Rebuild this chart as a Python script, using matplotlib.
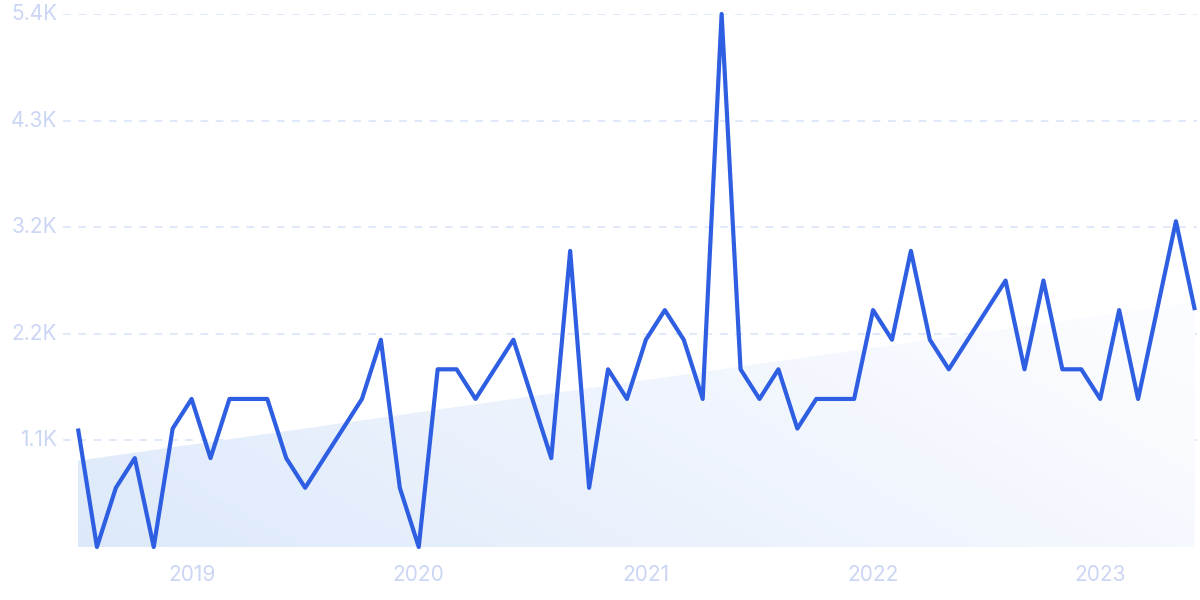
import numpy as np
import matplotlib
matplotlib.use("Agg")
import matplotlib.pyplot as plt
from matplotlib.patches import Polygon
from matplotlib.colors import LinearSegmentedColormap

# monthly values, Jul 2018 - Jun 2023
months = [f"{y}-{m:02d}" for y in range(2018, 2024) for m in range(1, 13)][6:66]
values = [1195, 0, 597, 896, 0, 1194, 1493, 896, 1493, 1493,
          1493, 896, 597, 896, 1194, 1493, 2090, 597, 0, 1792,
          1792, 1493, 1792, 2090, 1493, 896, 2986, 597, 1792, 1493,
          2090, 2389, 2090, 1493, 5375, 1792, 1493, 1792, 1194, 1493,
          1493, 1493, 2389, 2090, 2986, 2090, 1792, 2090, 2389, 2687,
          1792, 2687, 1792, 1792, 1493, 2389, 1493, 2389, 3285, 2389]

# trend band
trend_start = 870
trend_end = 2470

yticks = [1075, 2150, 3225, 4300, 5375]
ytick_labels = ["1.1K", "2.2K", "3.2K", "4.3K", "5.4K"]
year_labels = ["2019", "2020", "2021", "2022", "2023"]

line_color = "#2E5EE2"
text_color = "#CBD5F4"
grid_color = "#D6E3F8"

W, H = 1200, 600
fig = plt.figure(figsize=(W / 100, H / 100), dpi=100)
left, right, bottom, top = 63, 1197, 547, 14
ax = fig.add_axes([left / W, 1 - bottom / H, (right - left) / W, (bottom - top) / H])

n = len(values)
x = np.arange(n)
step = 18.93
x0 = -(78 - left) / step
x1 = x0 + (right - left) / step
ax.set_xlim(x0, x1)
ax.set_ylim(0, yticks[-1])

# gradient trend area
poly = Polygon([(0, 0), (0, trend_start), (n - 1, trend_end), (n - 1, 0)],
               closed=True, facecolor="none", edgecolor="none")
ax.add_patch(poly)
cmap = LinearSegmentedColormap.from_list("g", ["#DDE9FA", "#EDF3FD", "#FBFCFF"])
gx, gy = np.meshgrid(np.linspace(0, 1, 300), np.linspace(0, 1, 100))
grad = np.clip(0.8 * gx + 0.3 * gy, 0, 1)
im = ax.imshow(grad, cmap=cmap, extent=[0, n - 1, 0, trend_end], origin="lower",
               aspect="auto", zorder=1)
im.set_clip_path(poly)

# grid lines
for yt in yticks:
    ax.axhline(yt, color=grid_color, lw=1.1, ls=(0, (5, 5)), zorder=0.5)

ax.plot(x, values, color=line_color, lw=3.0, zorder=3, clip_on=False,
        solid_joinstyle="round", solid_capstyle="butt")

for yt, lab in zip(yticks, ytick_labels):
    ax.text(x0 - 0.3, yt, lab, ha="right", va="center", fontsize=15,
            color=text_color, family="Inter")

jan_idx = [i for i, m in enumerate(months) if m.endswith("-01")]
for i, lab in zip(jan_idx, year_labels):
    ax.text(i, -280, lab, ha="center", va="center", fontsize=15,
            color=text_color, family="Inter")

ax.axis("off")
fig.savefig("out.png", dpi=100)
